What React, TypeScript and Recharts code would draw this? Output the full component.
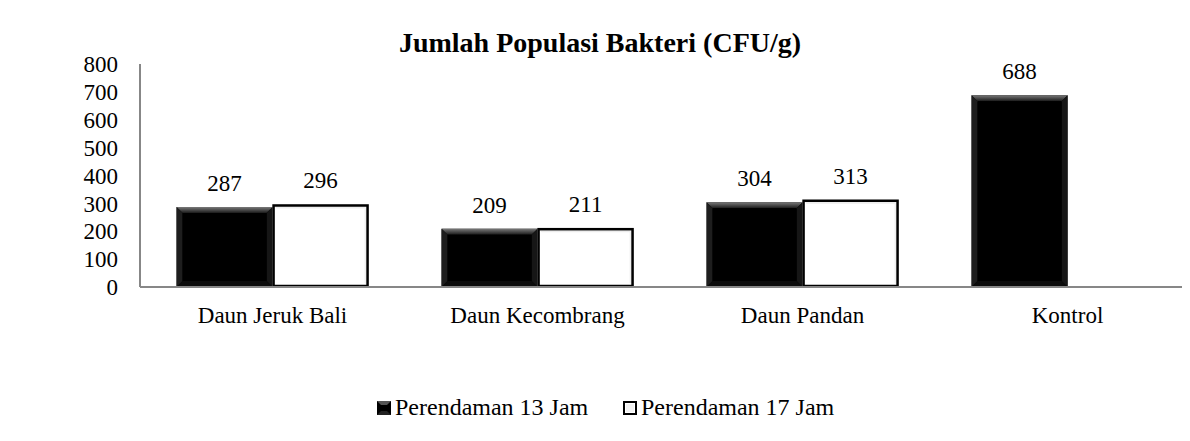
import React from 'react';
import { BarChart, Bar, XAxis, YAxis, LabelList } from 'recharts';

const categories = ['Daun Jeruk Bali', 'Daun Kecombrang', 'Daun Pandan', 'Kontrol'];
const jam13 = [287, 209, 304, 688];
const jam17: (number | null)[] = [296, 211, 313, null];
const yTicks = [0, 100, 200, 300, 400, 500, 600, 700, 800];

const data = categories.map((name, i) => ({ name, jam13: jam13[i], jam17: jam17[i] }));

const FONT = 'Liberation Serif, Times New Roman, serif';
const txt = { fontFamily: FONT, fontSize: 23, fill: '#000' };

// black bar with a soft bevelled edge
const BlackBar = (props: any) => {
  const { x, y, width, height, value, index } = props;
  if (value == null || !height) return null;
  const b = Math.min(6, width / 4, height / 4);
  const gid = `bevelTop${index}`;
  return (
    <g>
      <defs>
        <linearGradient id={gid} x1="0" y1="0" x2="0" y2="1">
          <stop offset="0%" stopColor="#7a7a7a" />
          <stop offset="100%" stopColor="#1a1a1a" />
        </linearGradient>
      </defs>
      <rect x={x} y={y} width={width} height={height} fill="#000" />
      <polygon points={`${x},${y} ${x + width},${y} ${x + width - b},${y + b} ${x + b},${y + b}`} fill={`url(#${gid})`} />
      <polygon points={`${x},${y} ${x + b},${y + b} ${x + b},${y + height - b} ${x},${y + height}`} fill="#1e1e1e" />
      <polygon points={`${x + width},${y} ${x + width},${y + height} ${x + width - b},${y + height - b} ${x + width - b},${y + b}`} fill="#161616" />
      <polygon points={`${x},${y + height} ${x + b},${y + height - b} ${x + width - b},${y + height - b} ${x + width},${y + height}`} fill="#0c0c0c" />
      <rect x={x + b} y={y + b} width={width - 2 * b} height={height - 2 * b} fill="#000" />
    </g>
  );
};

const WhiteBar = (props: any) => {
  const { x, y, width, height, value } = props;
  if (value == null || !height) return null;
  const b = 4;
  return (
    <g>
      <rect x={x} y={y} width={width} height={height} fill="#fff" />
      <polygon points={`${x},${y} ${x + width},${y} ${x + width - b},${y + b} ${x + b},${y + b}`} fill="#ededed" />
      <polygon points={`${x + width},${y} ${x + width},${y + height} ${x + width - b},${y + height - b} ${x + width - b},${y + b}`} fill="#f0f0f0" />
      <rect x={x + 1} y={y + 1} width={width - 2} height={height - 2} fill="none" stroke="#000" strokeWidth={2.5} />
    </g>
  );
};

const YTick = ({ x, y, payload }: any) => (
  <text x={x} y={y} dy="0.355em" textAnchor="end" fontFamily={FONT} fontSize={23} fill="#000" style={txt}>
    {payload.value}
  </text>
);

const XTick = ({ x, y, payload }: any) => (
  <text x={x} y={y} dy="0.71em" textAnchor="middle" fontFamily={FONT} fontSize={23} fill="#000" style={txt}>
    {payload.value}
  </text>
);

const TopLabel = ({ x, y, width, value }: any) => {
  if (value == null) return null;
  return (
    <text x={x + width / 2} y={y - 16} textAnchor="middle" fontFamily={FONT} fontSize={23} fill="#000" style={txt}>
      {value}
    </text>
  );
};

const LegendMark = ({ dark }: { dark: boolean }) => (
  <svg width={14} height={14} style={{ display: 'block' }}>
    {dark ? (
      <g>
        <rect x={0} y={0} width={14} height={14} fill="#000" />
        <polygon points="0,0 14,0 10,4 4,4" fill="#555" />
        <polygon points="0,14 4,10 10,10 14,14" fill="#222" />
        <rect x={4} y={4} width={6} height={6} fill="#000" />
      </g>
    ) : (
      <g>
        <rect x={1} y={1} width={12} height={12} fill="#fff" stroke="#000" strokeWidth={2} />
        <rect x={3} y={3} width={8} height={8} fill="#f2f2f2" />
      </g>
    )}
  </svg>
);

const legendItems = [
  { label: 'Perendaman 13 Jam', dark: true, left: 377 },
  { label: 'Perendaman 17 Jam', dark: false, left: 623 },
];

export default function App() {
  return (
    <div
      style={{
        position: 'relative',
        width: 1190,
        height: 441,
        overflow: 'hidden',
        marginLeft: -8,
        marginTop: -8,
        background: '#fff',
        fontFamily: FONT,
      }}
    >
      <style>{`.recharts-wrapper text { font-family: 'Liberation Serif', 'Times New Roman', serif !important; }`}</style>
      <svg width={1190} height={441} style={{ position: 'absolute', left: 0, top: 0 }}>
        <path d="M7,441 V7 H1190" fill="none" stroke="#858585" strokeWidth={2} />
      </svg>
      <div style={{ position: 'absolute', left: 0, top: 0 }}>
        <BarChart
          width={1210}
          height={441}
          data={data}
          margin={{ top: 64, right: 10, bottom: 114, left: 0 }}
          barCategoryGap="13.8%"
          barGap={0}
          style={{ fontFamily: FONT }}
        >
          <XAxis
            dataKey="name"
            height={40}
            tickLine={false}
            tickSize={6}
            tickMargin={14}
            axisLine={{ stroke: '#878787', strokeWidth: 2 }}
            tick={<XTick />}
            interval={0}
          />
          <YAxis
            width={140}
            domain={[0, 800]}
            ticks={yTicks}
            interval={0}
            tickLine={false}
            tickSize={6}
            tickMargin={16}
            axisLine={{ stroke: '#878787', strokeWidth: 2 }}
            tick={<YTick />}
          />
          <Bar dataKey="jam13" name="Perendaman 13 Jam" fill="#000" shape={<BlackBar />} isAnimationActive={false}>
            <LabelList dataKey="jam13" content={<TopLabel />} />
          </Bar>
          <Bar dataKey="jam17" name="Perendaman 17 Jam" fill="#fff" shape={<WhiteBar />} isAnimationActive={false}>
            <LabelList dataKey="jam17" content={<TopLabel />} />
          </Bar>
        </BarChart>
      </div>
      <div
        style={{
          position: 'absolute',
          left: 0,
          top: 29,
          width: 1200,
          textAlign: 'center',
          fontSize: 28,
          lineHeight: '28px',
          fontWeight: 'bold',
          color: '#000',
        }}
      >
        Jumlah Populasi Bakteri (CFU/g)
      </div>
      {legendItems.map((it) => (
        <div
          key={it.label}
          style={{
            position: 'absolute',
            left: it.left,
            top: 395,
            display: 'flex',
            alignItems: 'flex-end',
            fontSize: 24,
            lineHeight: '24px',
            color: '#000',
          }}
        >
          <div style={{ marginBottom: 4, marginRight: 4 }}>
            <LegendMark dark={it.dark} />
          </div>
          <span>{it.label}</span>
        </div>
      ))}
    </div>
  );
}
